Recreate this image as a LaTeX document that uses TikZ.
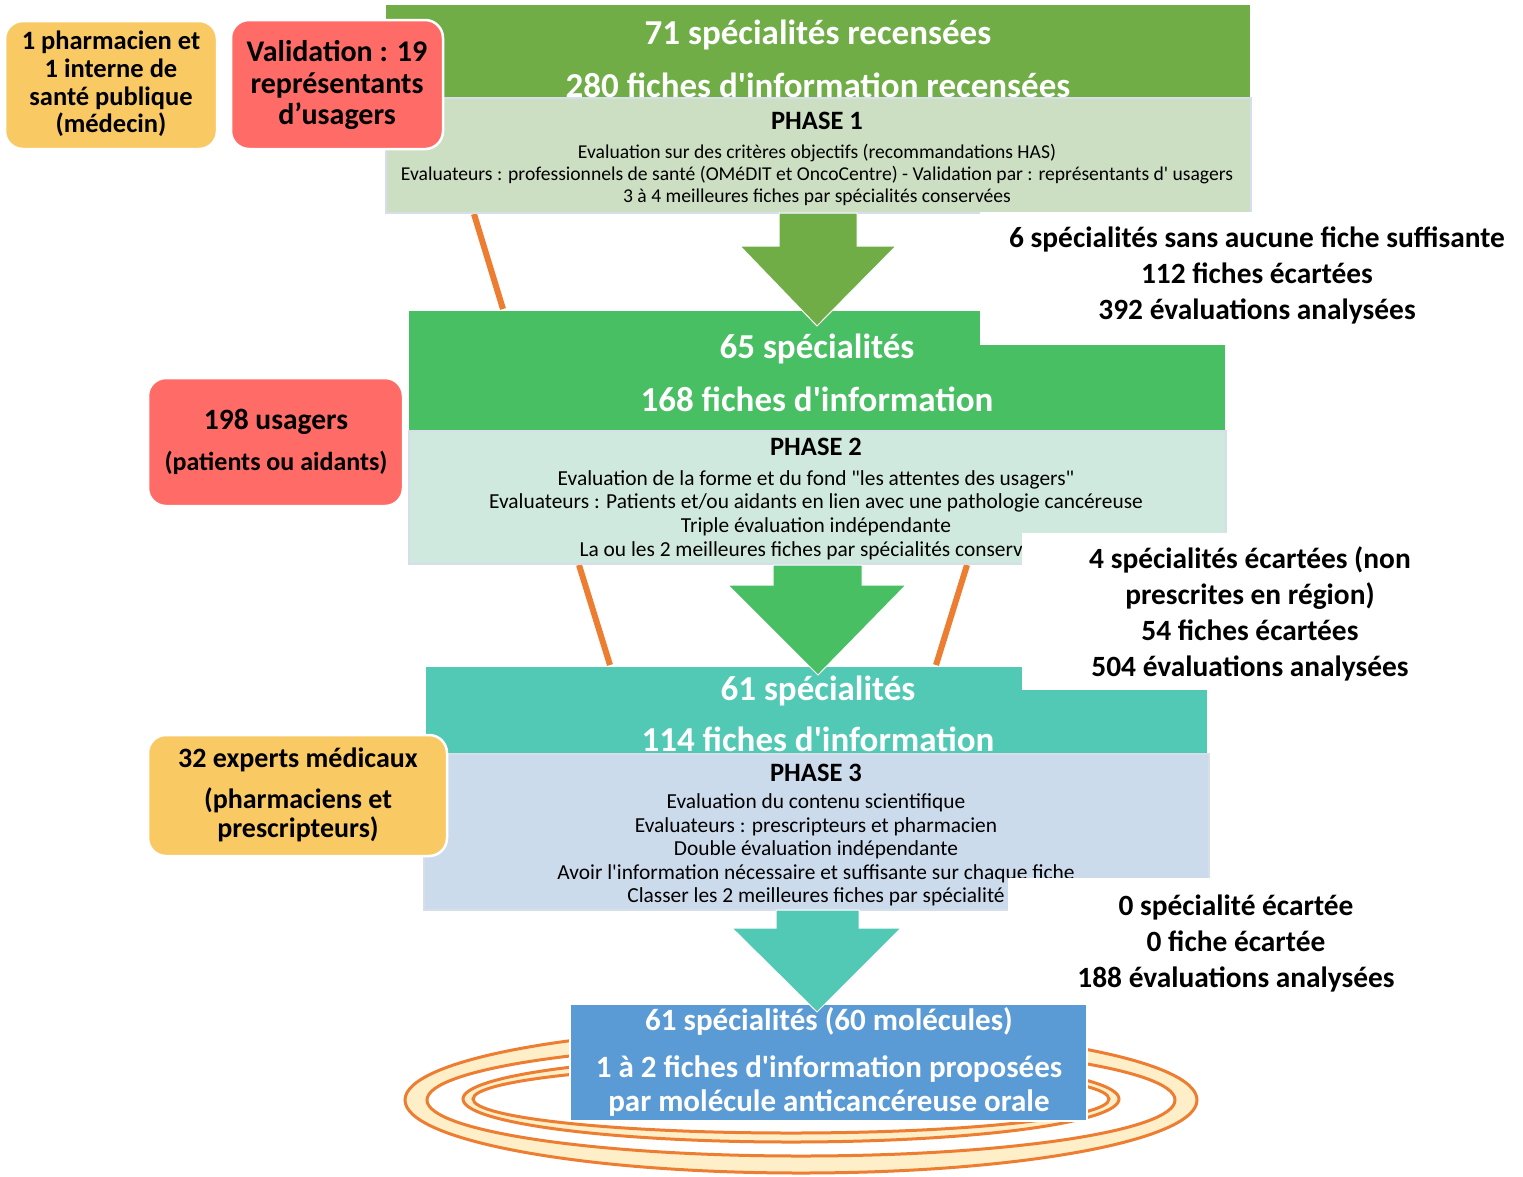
\documentclass[tikz,border=0pt]{standalone}
\usepackage{fontspec}
\setmainfont{Carlito}[Ligatures=TeXOff]
\definecolor{pAdark}{HTML}{70AD47}
\definecolor{pAlight}{HTML}{CCDFC2}
\definecolor{pBdark}{HTML}{49BF63}
\definecolor{pBlight}{HTML}{D0E9DF}
\definecolor{pCdark}{HTML}{52C9B5}
\definecolor{pClight}{HTML}{CCDBEC}
\definecolor{finalblue}{HTML}{5B9BD5}
\definecolor{ringorange}{HTML}{ED7D31}
\definecolor{ringcream}{HTML}{FFEFC9}
\definecolor{boxyellow}{HTML}{F9C964}
\definecolor{boxred}{HTML}{FF6B66}
\definecolor{edgegray}{HTML}{D6DEEA}
\newcommand{\fsz}[2]{\fontsize{#1}{#2}\selectfont}
\begin{document}
\begin{tikzpicture}[x=1pt,y=-1pt,
  bigtxt/.style={text=white, font=\bfseries\fsz{35}{53}, align=center, inner sep=0},
  phtitle/.style={font=\bfseries\fsz{26.5}{30}, inner sep=0},
  phbody/.style={align=center, inner sep=0},
  sidetxt/.style={font=\bfseries\fsz{29.4}{36}, align=center, inner sep=0},
  lefttxt/.style={font=\bfseries, align=center, inner sep=0},
  sidebox/.style={rounded corners=18pt, draw=white, line width=2.5pt},
  lightbox/.style={draw=edgegray, line width=1.5pt},
  connector/.style={draw=ringorange, line width=6pt},
  blockarrow/.style={draw=white, line width=1pt},
  ringline/.style={draw=ringorange, line width=3pt}
]
\useasboundingbox[fill=white] (0,0) rectangle (1523,1176);

% ---- rings behind final box
\fill[ringcream, even odd rule] (801,1100) ellipse [x radius=396, y radius=73] (801,1100) ellipse [x radius=374, y radius=56];
\draw[ringline] (801,1100) ellipse [x radius=396, y radius=73];
\draw[ringline] (801,1100) ellipse [x radius=374, y radius=56];
\fill[ringcream, even odd rule] (791,1099) ellipse [x radius=328, y radius=43] (791,1099) ellipse [x radius=318, y radius=34];
\draw[ringline] (791,1099) ellipse [x radius=328, y radius=43];
\draw[ringline] (791,1099) ellipse [x radius=318, y radius=34];

% ---- orange connectors
\coordinate (cA1) at (474,214);
\coordinate (cA2) at (503,309);
\coordinate (cB1) at (579,565);
\coordinate (cB2) at (610,665);
\coordinate (cC1) at (967,565);
\coordinate (cC2) at (936,665);
\draw[connector] (cA1) -- (cA2);
\draw[connector] (cB1) -- (cB2);
\draw[connector] (cC1) -- (cC2);

% ---- PHASE 1
\fill[pAdark] (386,5) rectangle (1250,98);
\node[bigtxt] (tA) at (818,59) {71 spécialités recensées\\280 fiches d'information recensées};
\filldraw[lightbox, fill=pAlight] (386,98) rectangle (1251,213);
\node[phtitle] (hA) at (817,121) {PHASE 1};
\node[phbody, font=\fsz{19.6}{22}] (bA) at (817,175) {Evaluation sur des critères objectifs (recommandations HAS)\\Evaluateurs : professionnels de santé (OMéDIT et OncoCentre) - Validation par : représentants d' usagers\\3 à 4 meilleures fiches par spécialités conservées};

% ---- PHASE 2
\fill[pBdark] (409,311) rectangle (1225,431);
\node[bigtxt] (tB) at (817,373) {65 spécialités\\168 fiches d'information};
\filldraw[lightbox, fill=pBlight] (409,431) rectangle (1226,564);
\node[phtitle] (hB) at (816,447) {PHASE 2};
\node[phbody, font=\fsz{21.4}{23.8}] (bB) at (816,515) {Evaluation de la forme et du fond "les attentes des usagers"\\Evaluateurs : Patients et/ou aidants en lien avec une pathologie cancéreuse\\Triple évaluation indépendante\\La ou les 2 meilleures fiches par spécialités conservées};

% arrow 1
\filldraw[blockarrow, fill=pAdark] (779,213) -- (857,213) -- (857,246) -- (896,246) -- (817,326) -- (740,246) -- (779,246) -- cycle;

% ---- PHASE 3
\fill[pCdark] (426,667) rectangle (1207,754);
\node[bigtxt] (tC) at (818,691) {61 spécialités};
\node[bigtxt] (tD) at (818,739) {114 fiches d'information};
\filldraw[lightbox, fill=pClight] (424,754) rectangle (1209,910);
\node[phtitle] (hC) at (816,773) {PHASE 3};
\node[phbody, font=\fsz{21.4}{23.5}] (bC) at (816,850) {Evaluation du contenu scientifique\\Evaluateurs : prescripteurs et pharmacien\\Double évaluation indépendante\\Avoir l'information nécessaire et suffisante sur chaque fiche\\Classer les 2 meilleures fiches par spécialité};

% arrow 2
\filldraw[blockarrow, fill=pBdark] (773,565) -- (862,565) -- (862,585) -- (906,585) -- (818,675) -- (728,585) -- (773,585) -- cycle;

% ---- final box
\filldraw[draw=white, line width=2pt, fill=finalblue] (570,1004) rectangle (1087,1121);
% arrow 3
\filldraw[blockarrow, fill=pCdark] (776,910) -- (859,910) -- (859,928) -- (901,928) -- (817,1012) -- (732,928) -- (776,928) -- cycle;
\node[text=white, font=\bfseries\fsz{31}{34}, inner sep=0] (fA) at (829,1021) {61 spécialités (60 molécules)};
\node[text=white, font=\bfseries\fsz{31}{34}, align=center, inner sep=0] (fB) at (829,1086) {1 à 2 fiches d'information proposées\\par molécule anticancéreuse orale};

% ---- right-side white boxes with counts
\fill[white] (980,212) rectangle (1515,345);
\node[sidetxt] (rA) at (1257,275) {6 spécialités sans aucune fiche suffisante\\112 fiches écartées\\392 évaluations analysées};
\fill[white] (1022,533) rectangle (1440,690);
\node[sidetxt] (rB) at (1250,614) {4 spécialités écartées (non\\prescrites en région)\\54 fiches écartées\\504 évaluations analysées};
\fill[white] (1008,878) rectangle (1430,996);
\node[sidetxt] (rC) at (1236,943) {0 spécialité écartée\\0 fiche écartée\\188 évaluations analysées};

% ---- left boxes
\filldraw[sidebox, fill=boxyellow] (5,21) rectangle (217,149);
\node[lefttxt, font=\bfseries\fsz{26.5}{27.8}] (lA) at (111,84) {1 pharmacien et\\1 interne de\\santé publique\\(médecin)};
\filldraw[sidebox, fill=boxred] (231,20) rectangle (443,149);
\node[lefttxt, font=\bfseries\fsz{30}{31.5}] (lB) at (337,85) {Validation : 19\\représentants\\d’usagers};
\filldraw[sidebox, fill=boxred] (148,378) rectangle (403,506);
\node[lefttxt, font=\bfseries\fsz{29.5}{32}] (lC) at (276,422) {198 usagers};
\node[lefttxt, font=\bfseries\fsz{26}{30}] (lF) at (276,463) {(patients ou aidants)};
\filldraw[sidebox, fill=boxyellow] (148,735) rectangle (447,856);
\node[lefttxt, font=\bfseries\fsz{28}{30}] (lD) at (298,760) {32 experts médicaux};
\node[lefttxt, font=\bfseries\fsz{28}{29}] (lE) at (298,815) {(pharmaciens et\\prescripteurs)};
\end{tikzpicture}
\end{document}
